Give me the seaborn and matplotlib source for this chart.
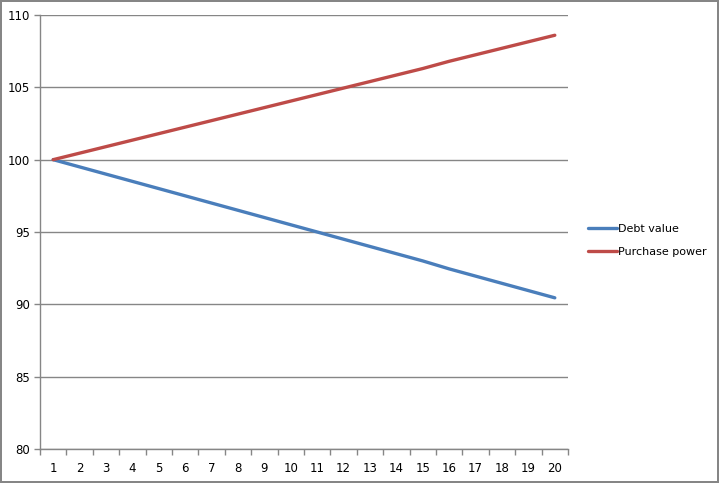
import numpy as np
import pandas as pd
import seaborn as sns
import matplotlib.pyplot as plt
from matplotlib.ticker import FixedLocator, NullFormatter

# Values
periods = list(range(1, 21))
debt_value = [100.0, 99.5, 99.0, 98.5, 98.0, 97.5, 97.0, 96.5, 96.0, 95.5,
              95.0, 94.5, 94.0, 93.5, 93.0, 92.45, 91.95, 91.45, 90.95, 90.45]
purchase_power = [100.0, 100.45, 100.9, 101.35, 101.8, 102.25, 102.7, 103.15, 103.6, 104.05,
                  104.5, 104.95, 105.4, 105.85, 106.3, 106.8, 107.25, 107.7, 108.15, 108.6]
series_names = ['Debt value', 'Purchase power']
y_ticks = [80, 85, 90, 95, 100, 105, 110]

df = pd.DataFrame({
    'Period': periods * 2,
    'Value': debt_value + purchase_power,
    'Series': [series_names[0]] * len(periods) + [series_names[1]] * len(periods),
})

sns.set_style('white')
plt.rcParams['font.family'] = ['DejaVu Sans']
plt.rcParams['text.color'] = 'black'
plt.rcParams['xtick.labelcolor'] = 'black'
plt.rcParams['ytick.labelcolor'] = 'black'

grey = '#868686'
fig = plt.figure(figsize=(7.19, 4.83), dpi=100, edgecolor=grey, linewidth=1.5)
ax = fig.add_axes([40 / 719, 1 - 449 / 483, 528 / 719, 434 / 483])

sns.lineplot(
    data=df, x='Period', y='Value', hue='Series', ax=ax,
    palette={'Debt value': '#4A7EBB', 'Purchase power': '#BE4B48'},
    linewidth=2.4, legend=True, zorder=3
)

# Axis limits and ticks (category style: ticks between points)
ax.set_xlim(0.5, 20.5)
ax.set_ylim(80, 110)
ax.set_yticks(y_ticks)
ax.xaxis.set_major_locator(FixedLocator(np.arange(0.5, 21, 1)))
ax.xaxis.set_major_formatter(NullFormatter())
ax.xaxis.set_minor_locator(FixedLocator(periods))
ax.set_xticklabels([str(p) for p in periods], minor=True)
ax.tick_params(axis='x', which='major', length=4, color=grey, width=1, direction='out', bottom=True)
ax.tick_params(axis='x', which='minor', length=0, labelsize=8.5, pad=9, bottom=True, labelcolor='black')
ax.tick_params(axis='y', length=4, color=grey, width=1, direction='out', labelsize=8.5, pad=3,
               left=True, labelcolor='black')
ax.set_xlabel('')
ax.set_ylabel('')

ax.yaxis.grid(True, color=grey, linewidth=1)
ax.set_axisbelow(True)
for side in ['top', 'right']:
    ax.spines[side].set_visible(False)
for side in ['left', 'bottom']:
    ax.spines[side].set_color(grey)
    ax.spines[side].set_linewidth(1)

leg = ax.legend(
    loc='center left', bbox_to_anchor=(1.03, 0.48), frameon=False, borderaxespad=0,
    fontsize=8, handlelength=2.6, handletextpad=0.1, labelspacing=1.2
)
for line in leg.get_lines():
    line.set_linewidth(2.4)
for text in leg.get_texts():
    text.set_color('black')

fig.savefig('out.png', dpi=100, edgecolor=fig.get_edgecolor())
